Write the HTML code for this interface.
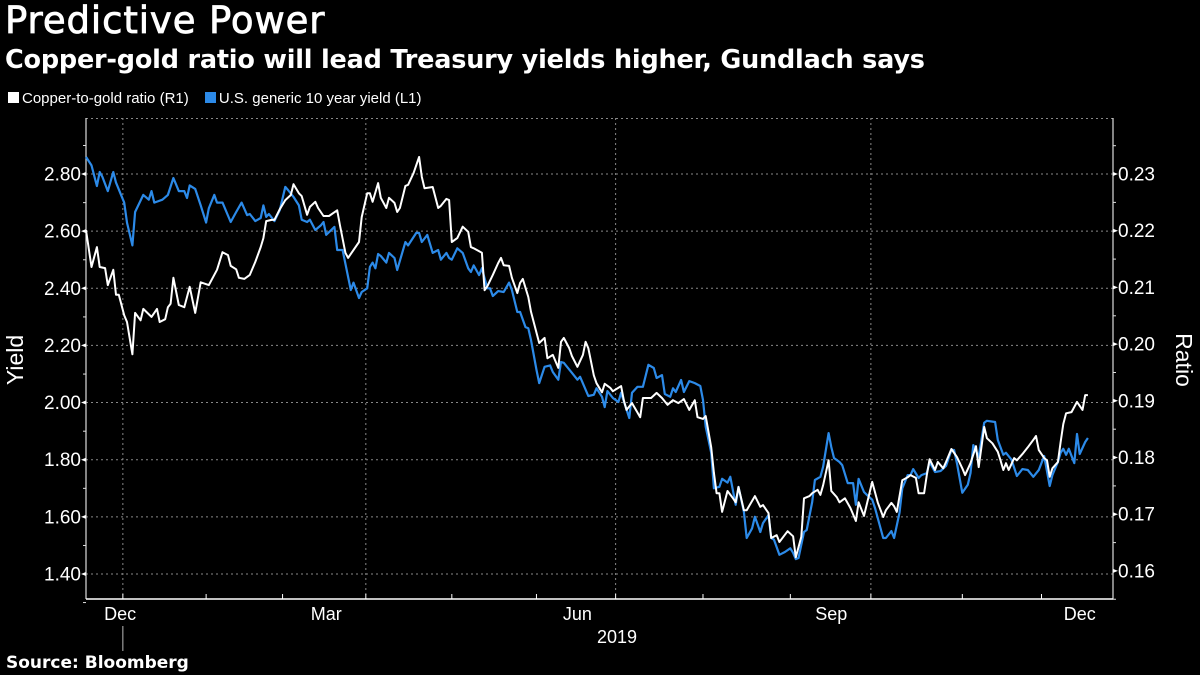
<!DOCTYPE html>
<html><head><meta charset="utf-8">
<style>
html,body{margin:0;padding:0;background:#000;}
body{width:1200px;height:675px;overflow:hidden;position:relative;font-family:"Liberation Sans","DejaVu Sans",sans-serif;color:#fff;}
.t{position:absolute;white-space:nowrap;}
</style></head>
<body>
<div class="t" style="left:5px;top:-1px;font-size:37px;font-weight:normal;font-family:'DejaVu Sans',sans-serif;letter-spacing:0.9px;-webkit-text-stroke:0.8px #fff;">Predictive Power</div>
<div class="t" style="left:5px;top:45px;font-size:25.5px;font-weight:bold;font-family:'DejaVu Sans',sans-serif;letter-spacing:-0.2px;">Copper-gold ratio will lead Treasury yields higher, Gundlach says</div>
<div class="t" style="left:8px;top:90px;font-size:15px;">
<span><span style="display:inline-block;width:11px;height:11px;background:#fff;margin-right:3px;"></span>Copper-to-gold ratio (R1)</span>
<span style="margin-left:12px;"><span style="display:inline-block;width:11px;height:11px;background:#2c8ae8;margin-right:3px;"></span>U.S. generic 10 year yield (L1)</span>
</div>
<div class="t" style="left:6px;top:653px;font-size:17px;font-weight:bold;font-family:'DejaVu Sans',sans-serif;">Source: Bloomberg</div>
<svg id="chart" width="1200" height="675" style="position:absolute;left:0;top:0;" font-family="Liberation Sans, DejaVu Sans, sans-serif"></svg>
<script>
const yieldDays=[0,2,4,5,6,8,10,11,14,15,17,18,21,23,24,25,28,30,32,34,36,37,38,40,42,44,45,47,48,50,53,55,57,59,60,62,64,65,66,67,69,71,73,74,76,78,79,81,82,84,86,87,88,91,92,94,96,97,98,100,101,103,104,105,106,107,108,110,111,113,114,117,118,121,122,123,125,127,129,130,132,133,134,136,138,140,141,142,144,145,147,148,149,151,153,155,156,158,159,161,162,163,165,166,168,170,171,173,174,175,178,180,181,184,186,187,189,190,191,193,195,196,199,200,202,204,206,208,209,211,212,214,215,216,218,219,221,223,225,226,227,229,230,232,233,235,236,238,239,241,242,244,245,247,248,250,251,252,254,256,258,259,260,261,263,264,266,267,269,270,272,273,274,276,277,279,281,282,283,285,286,288,289,292,293,295,296,298,299,301,302,303,305,306,308,309,311,313,315,317,318,319,321,323,324,325,327,329,330,333,334,336,337,339,341,343,345,347,349,351,353,354,356,357,358,359,360,362,363,364,366,367];
const yieldVals=[2.86,2.83,2.758,2.807,2.79,2.74,2.807,2.77,2.70,2.63,2.55,2.667,2.727,2.71,2.74,2.70,2.71,2.727,2.786,2.74,2.74,2.716,2.76,2.748,2.69,2.63,2.68,2.727,2.70,2.70,2.632,2.667,2.70,2.656,2.66,2.635,2.646,2.69,2.65,2.66,2.635,2.674,2.755,2.744,2.72,2.69,2.64,2.632,2.64,2.604,2.62,2.632,2.587,2.615,2.534,2.534,2.44,2.394,2.42,2.366,2.387,2.40,2.475,2.49,2.47,2.52,2.513,2.49,2.524,2.506,2.464,2.562,2.55,2.594,2.594,2.562,2.587,2.524,2.534,2.50,2.524,2.506,2.50,2.54,2.524,2.47,2.457,2.48,2.446,2.47,2.40,2.40,2.373,2.39,2.387,2.42,2.394,2.317,2.317,2.264,2.26,2.219,2.114,2.068,2.125,2.13,2.107,2.08,2.142,2.139,2.104,2.08,2.09,2.023,2.027,2.05,2.02,1.984,2.04,2.016,2.002,2.034,1.946,2.034,2.055,2.055,2.132,2.121,2.086,2.096,2.03,2.02,2.05,2.037,2.079,2.037,2.075,2.068,2.058,2.009,1.915,1.824,1.70,1.705,1.733,1.72,1.74,1.642,1.705,1.617,1.526,1.56,1.60,1.547,1.578,1.606,1.526,1.52,1.467,1.477,1.49,1.474,1.452,1.456,1.547,1.554,1.652,1.729,1.74,1.775,1.893,1.844,1.806,1.792,1.781,1.718,1.718,1.642,1.733,1.687,1.677,1.66,1.631,1.526,1.526,1.55,1.526,1.614,1.70,1.746,1.746,1.767,1.736,1.746,1.753,1.792,1.757,1.76,1.778,1.834,1.834,1.788,1.684,1.712,1.753,1.851,1.81,1.929,1.936,1.932,1.869,1.817,1.824,1.80,1.743,1.767,1.764,1.74,1.764,1.813,1.708,1.746,1.792,1.824,1.838,1.817,1.838,1.788,1.89,1.82,1.862,1.876];
const ratioDays=[0,2,4,5,7,8,10,11,12,14,15,17,18,20,21,24,26,27,29,30,31,32,34,36,38,40,42,45,48,50,52,53,55,56,58,60,62,64,65,66,68,69,71,73,75,76,78,79,81,82,84,85,87,89,92,93,95,96,100,101,103,104,105,107,108,110,111,113,114,115,117,118,120,122,123,124,127,129,130,132,133,134,136,138,140,141,142,145,146,147,149,151,152,153,155,156,158,159,160,162,163,165,166,168,169,171,173,174,175,177,178,180,182,183,184,186,187,189,190,192,193,196,197,198,200,203,204,207,209,211,213,215,217,219,221,223,224,226,227,229,230,231,232,233,235,237,238,239,241,242,245,247,248,250,251,253,254,257,259,260,262,263,265,266,268,269,270,272,273,275,276,278,280,282,283,285,288,290,292,293,295,296,297,299,301,302,304,305,307,308,309,311,312,314,315,317,319,321,322,324,326,327,329,330,332,334,335,336,337,338,340,341,343,345,347,348,349,351,352,353,354,356,357,358,359,361,363,365,366,367];
const ratioVals=[0.2201,0.2136,0.2171,0.2136,0.2134,0.2104,0.2131,0.2087,0.2087,0.2051,0.2039,0.1982,0.2055,0.2042,0.2062,0.2048,0.2062,0.2039,0.2044,0.2065,0.2071,0.2117,0.2069,0.2065,0.2101,0.2055,0.2109,0.2104,0.2131,0.2162,0.2157,0.2138,0.2132,0.2117,0.2115,0.2122,0.2145,0.2171,0.2187,0.2217,0.2219,0.2219,0.2238,0.2254,0.2263,0.2282,0.2266,0.2261,0.2228,0.2242,0.2251,0.224,0.2226,0.2226,0.2236,0.221,0.2161,0.2152,0.218,0.2224,0.2266,0.2266,0.2251,0.2284,0.2258,0.224,0.2258,0.2249,0.2233,0.224,0.2279,0.2281,0.2302,0.233,0.2295,0.2275,0.2277,0.224,0.2244,0.2256,0.2254,0.218,0.2187,0.2207,0.2198,0.2171,0.2169,0.2161,0.2095,0.2102,0.2122,0.2143,0.2152,0.2139,0.2138,0.2117,0.209,0.2108,0.2115,0.2083,0.2057,0.202,0.2002,0.2011,0.1975,0.1981,0.1958,0.2004,0.2011,0.1993,0.1979,0.196,0.1981,0.2004,0.1993,0.1945,0.1931,0.1915,0.193,0.1923,0.1917,0.1926,0.1901,0.1884,0.1896,0.1871,0.1905,0.1905,0.1914,0.1905,0.1893,0.1901,0.1896,0.1903,0.1884,0.1901,0.1871,0.1868,0.1873,0.1818,0.1773,0.1737,0.1737,0.1704,0.1741,0.1728,0.1721,0.1748,0.1707,0.1707,0.1732,0.1713,0.1716,0.1702,0.1658,0.1663,0.1651,0.167,0.1661,0.1624,0.166,0.1728,0.1732,0.1737,0.1743,0.1734,0.1751,0.1795,0.1741,0.173,0.1721,0.1728,0.1711,0.1688,0.1721,0.1697,0.1757,0.1721,0.1695,0.1707,0.172,0.1714,0.1704,0.176,0.1765,0.1769,0.1764,0.1737,0.1737,0.1769,0.1797,0.1778,0.1792,0.1781,0.1792,0.1815,0.1801,0.1781,0.1769,0.179,0.182,0.1783,0.1854,0.1834,0.1825,0.181,0.1795,0.1778,0.179,0.1778,0.1799,0.1795,0.1806,0.1818,0.1831,0.1838,0.1813,0.1799,0.1795,0.1766,0.1781,0.1792,0.1827,0.1859,0.1878,0.188,0.1898,0.1884,0.191,0.191];
const leftTicks=["2.80","2.60","2.40","2.20","2.00","1.80","1.60","1.40"];
const rightTicks=["0.23","0.22","0.21","0.20","0.19","0.18","0.17","0.16"];
const monthLabels=["Dec","Mar","Jun","Sep","Dec"];
const monthLabelDays=[12.5,88,180,273,364];
const majorTickDays=[13.5,102.5,194,287.5];
const minorTickDays=[44,72,134,165,226,258,321,350];
const yearLabel="2019";

const svg=document.getElementById('chart');
const NS="http://www.w3.org/2000/svg";
const L=86,R=1113,T=118,B=599;
const xS=d=>L+d*2.73;
const yL=v=>174+(2.80-v)/0.2*57.14;
const yR=v=>174+(0.23-v)/0.01*56.7;
function mk(tag,attrs,parent){const e=document.createElementNS(NS,tag);for(const k in attrs)e.setAttribute(k,attrs[k]);(parent||svg).appendChild(e);return e;}

const grid=mk('g',{});


mk('line',{x1:L,x2:R,y1:T+0.5,y2:T+0.5,stroke:'#888','stroke-dasharray':'2,3','stroke-width':1},grid);
leftTicks.forEach(t=>{const y=yL(+t);mk('line',{x1:L,x2:R,y1:y,y2:y,stroke:'#888','stroke-dasharray':'2,3','stroke-width':1},grid);});
majorTickDays.forEach(d=>{const x=xS(d);mk('line',{x1:x,x2:x,y1:T,y2:B,stroke:'#888','stroke-dasharray':'2,3','stroke-width':1},grid);});

const axes=mk('g',{});


mk('line',{x1:L,x2:L,y1:T,y2:B,stroke:'#ddd','stroke-width':1.2},axes);
mk('line',{x1:R,x2:R,y1:T,y2:B,stroke:'#ddd','stroke-width':1.2},axes);
mk('line',{x1:L,x2:R,y1:B,y2:B,stroke:'#fff','stroke-width':1.5},axes);
leftTicks.forEach((t,i)=>{const y=yL(+t);
 mk('path',{d:`M${L-5},${y} L${L},${y-2} L${L},${y+2} Z`,fill:'#fff'},axes);
 mk('line',{x1:L-3,x2:L,y1:y-28.5,y2:y-28.5,stroke:'#ddd'},axes);
 const tx=mk('text',{x:L-5,y:y+6.5,'text-anchor':'end','font-size':19,fill:'#fff'},axes);tx.textContent=t;
 
 });
mk('line',{x1:L-3,x2:L,y1:yL(1.3),y2:yL(1.3),stroke:'#ddd'},axes);
rightTicks.forEach(t=>{const y=yR(+t);
 mk('path',{d:`M${R+5},${y} L${R},${y-2} L${R},${y+2} Z`,fill:'#fff'},axes);
 mk('line',{x1:R,x2:R+3,y1:y-28.3,y2:y-28.3,stroke:'#ddd'},axes);
 const tx=mk('text',{x:R+5,y:y+6.5,'text-anchor':'start','font-size':19,fill:'#fff'},axes);tx.textContent=t;
 
 });
mk('line',{x1:R,x2:R+3,y1:yR(0.155),y2:yR(0.155),stroke:'#ddd'},axes);
majorTickDays.concat(minorTickDays).forEach(d=>{const x=xS(d);mk('line',{x1:x,x2:x,y1:B-5,y2:B,stroke:'#fff'},axes);});
monthLabels.forEach((m,i)=>{const tx=mk('text',{x:xS(monthLabelDays[i]),y:620,'text-anchor':'middle','font-size':18,fill:'#fff'},axes);tx.textContent=m;
 
 });
mk('line',{x1:xS(majorTickDays[0]),x2:xS(majorTickDays[0]),y1:626,y2:651,stroke:'#bbb'},axes);
const yr=mk('text',{x:617,y:643,'text-anchor':'middle','font-size':18,fill:'#fff'},axes);yr.textContent=yearLabel;


const ylt=mk('text',{x:0,y:0,'text-anchor':'middle','font-size':23,fill:'#fff',transform:'translate(23,360) rotate(-90)'},axes);ylt.textContent='Yield';


const yrt=mk('text',{x:0,y:0,'text-anchor':'middle','font-size':23,fill:'#fff',transform:'translate(1176,360) rotate(90)'},axes);yrt.textContent='Ratio';



const yp=mk('polyline',{points:yieldDays.map((d,i)=>xS(d).toFixed(1)+','+yL(yieldVals[i]).toFixed(1)).join(' '),fill:'none',stroke:'#2c8ae8','stroke-width':2.2,'stroke-linejoin':'round'});


const rp=mk('polyline',{points:ratioDays.map((d,i)=>xS(d).toFixed(1)+','+yR(ratioVals[i]).toFixed(1)).join(' '),fill:'none',stroke:'#fff','stroke-width':2,'stroke-linejoin':'round'});


</script>
</body></html>
